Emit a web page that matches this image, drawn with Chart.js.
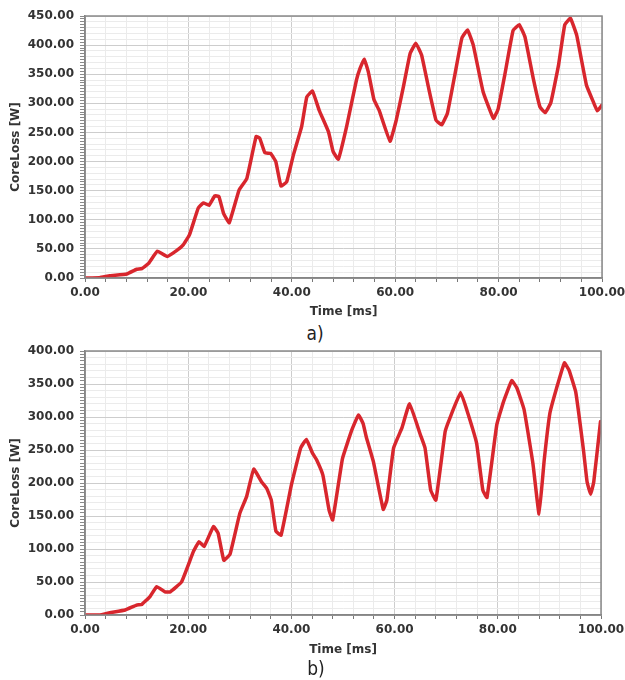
<!DOCTYPE html>
<html>
<head>
<meta charset="utf-8">
<script src="https://cdn.jsdelivr.net/npm/chart.js@4.4.1/dist/chart.umd.min.js"></script>
<style>
  body { margin: 0; background: #fff; }
  #wrap { position: relative; width: 625px; height: 680px; overflow: hidden; }
  canvas { position: absolute; left: 0; }
  .cap {
    position: absolute;
    font-family: "Liberation Sans Narrow", "DejaVu Sans Condensed", "Liberation Sans", sans-serif;
    font-size: 19px;
    color: #222;
    transform: translate(-50%, -50%);
  }
</style>
</head>
<body>
<div id="wrap">
  <canvas id="chartA" width="625" height="322" style="top:0"></canvas>
  <div class="cap" style="left:315px; top:333px">a)</div>
  <canvas id="chartB" width="625" height="324" style="top:336px"></canvas>
  <div class="cap" style="left:316px; top:668px">b)</div>
</div>
<script>
// chart a) - time [ms] and core loss [W]
const timeA = [0, 2.8, 4.8, 8.1, 10, 11, 12.3, 14.0, 15.9, 17.7, 19.0, 20.2, 21.9, 22.9, 24.0,
  25.1, 25.9, 26.8, 27.9, 29.8, 31.3, 33.1, 33.8, 34.8, 35.9, 36.9, 37.9, 39.0, 40.3, 41.9,
  42.9, 44.0, 45.3, 47.1, 48.0, 49.0, 50.6, 52.5, 53.2, 54.0, 54.8, 55.9, 56.9, 59.0, 60.2,
  61.6, 62.9, 64.0, 65.1, 66.4, 67.9, 69.0, 70.1, 71.6, 72.9, 74.0, 75.1, 77.0, 79.0, 79.9,
  81.2, 82.8, 84.0, 85.1, 86.7, 88.0, 89.0, 90.1, 91.6, 92.8, 93.9, 95.1, 97.0, 98.3, 99.1, 100];
const lossA = [0, 0.5, 4, 7, 15, 16, 25, 46, 37, 47, 57, 74, 120, 129, 125,
  141, 140, 111, 95, 151, 171, 243, 240, 215, 214, 200, 158, 165, 211, 260,
  311, 321, 288, 251, 217, 204, 260, 340, 360, 376, 354, 306, 288, 235, 271,
  329, 386, 403, 383, 329, 271, 263, 283, 352, 412, 426, 400, 320, 274, 290,
  349, 425, 435, 414, 343, 294, 284, 301, 366, 435, 446, 417, 331, 303, 287, 297];

// chart b)
const timeB = [0, 2.8, 4.8, 7.8, 10, 11, 12.6, 13.9, 15.5, 16.5, 18.7, 21.0, 22.1, 23.1, 24.9,
  25.8, 26.9, 28.1, 30.0, 31.3, 32.7, 34.2, 35.2, 36.1, 37.0, 38.0, 40.0, 41.8, 42.9, 44.1,
  44.9, 46.1, 47.3, 48.0, 49.9, 51.7, 53.0, 53.9, 54.5, 55.9, 57.8, 58.5, 59.8, 61.4, 62.9,
  65.0, 65.9, 67.0, 68.0, 69.8, 70.7, 72.8, 74.3, 75.9, 77.1, 77.9, 79.8, 81.1, 82.7, 83.7,
  85.1, 86.8, 88.0, 89.0, 90.1, 91.4, 92.9, 93.8, 95.1, 96.6, 97.3, 98.0, 98.6, 99.9];
const lossB = [0, 0, 3.5, 7.6, 15, 16, 28, 43, 35, 35, 50, 96, 111, 104, 134,
  124, 83, 92, 154, 179, 221, 202, 192, 174, 127, 121, 197, 253, 266, 245,
  235, 212, 159, 144, 237, 280, 303, 290, 270, 232, 160, 174, 253, 283, 320,
  273, 253, 189, 174, 278, 298, 337, 303, 260, 189, 178, 288, 323, 355, 344,
  311, 230, 153, 235, 306, 344, 382, 371, 338, 250, 202, 183, 202, 293];

const xMax = 100;
const yMaxA = 450;
const yMaxB = 400;

const tickFont = { family: "DejaVu Sans", weight: "bold", size: 12 };

const frame = {
  id: "frame",
  afterDraw(chart) {
    const { ctx, chartArea: a } = chart;
    ctx.save();
    ctx.strokeStyle = "#8a8a8a";
    ctx.lineWidth = 1.5;
    ctx.strokeRect(a.left, a.top, a.right - a.left, a.bottom - a.top);
    ctx.restore();
  },
};

function makeChart(id, times, losses, yMax, pad, xHeight) {
  const points = times.map((t, i) => ({ x: t, y: losses[i] }));
  return new Chart(document.getElementById(id), {
    type: "line",
    data: {
      datasets: [{
        data: points,
        borderColor: "#d8262d",
        borderWidth: 3.5,
        borderJoinStyle: "round",
        borderCapStyle: "round",
        pointRadius: 0,
        tension: 0.1,
      }],
    },
    options: {
      responsive: false,
      animation: false,
      layout: { padding: pad },
      plugins: { legend: { display: false }, tooltip: { enabled: false } },
      scales: {
        x: {
          type: "linear",
          min: 0,
          max: xMax,
          afterFit: (s) => {
            s.height = xHeight;
            s.paddingRight = 0;
            s.paddingLeft = 0;
          },
          ticks: {
            stepSize: 4,
            autoSkip: false,
            maxRotation: 0,
            padding: 4,
            color: "#333",
            font: tickFont,
            callback: (v) => (v % 20 === 0 ? v.toFixed(2) : ""),
          },
          grid: {
            tickLength: 4,
            tickColor: "#777",
            color: (c) => (c.tick && c.tick.value % 20 === 0 ? "#cdcdcd" : "#ebebeb"),
          },
          border: { color: "#7a7a7a", width: 1.5 },
          title: {
            display: true,
            text: "Time [ms]",
            color: "#333",
            font: tickFont,
            padding: { top: 0, bottom: 3 },
          },
        },
        y: {
          min: 0,
          max: yMax,
          afterFit: (s) => { s.width = 85; },
          ticks: {
            stepSize: 5,
            autoSkip: false,
            padding: 6,
            color: "#333",
            font: tickFont,
            callback: (v) => (v % 50 === 0 ? v.toFixed(2) : ""),
          },
          grid: {
            tickLength: 5,
            tickColor: "#8a8a8a",
            color: (c) => {
              if (!c.tick) return "#ebebeb";
              const v = c.tick.value;
              if (v % 50 === 0) return "#cdcdcd";
              if (v % 10 === 0) return "#ebebeb";
              return "rgba(0,0,0,0)";
            },
          },
          border: { color: "#7a7a7a", width: 1.5 },
          title: {
            display: true,
            text: "CoreLoss [W]",
            color: "#333",
            font: tickFont,
            padding: { top: 9, bottom: 0 },
          },
        },
      },
    },
    plugins: [frame],
  });
}

makeChart("chartA", timeA, lossA, yMaxA, { top: 16, right: 23, left: 0, bottom: 0 }, 44);
makeChart("chartB", timeB, lossB, yMaxB, { top: 15, right: 24, left: 0, bottom: 0 }, 45);
</script>
</body>
</html>
